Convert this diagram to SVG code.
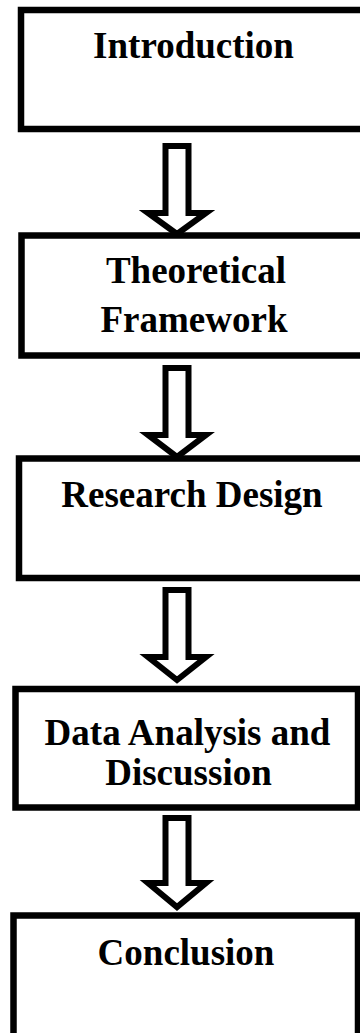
<svg xmlns="http://www.w3.org/2000/svg" width="360" height="1033" viewBox="0 0 360 1033">
<style>
.box{fill:#fff;stroke:#000;stroke-width:6.5}
.arr{fill:#fff;stroke:#000;stroke-width:6;stroke-linejoin:miter;stroke-miterlimit:10}
.t{font-family:"Liberation Serif","Times New Roman",serif;font-weight:bold;font-size:37px;fill:#000;text-anchor:middle}
</style>
<rect width="360" height="1033" fill="#fff"/>
<g id="connectors">
<path class="arr" d="M165.5 146 H188.5 V213 H206 L177 234 L148 213 H165.5 Z"/>
<path class="arr" d="M165.5 368 H188.5 V435 H206 L177 457 L148 435 H165.5 Z"/>
<path class="arr" d="M165.5 590 H188.5 V657 H206 L177 680 L148 657 H165.5 Z"/>
<path class="arr" d="M165.5 818 H188.5 V883 H206 L177 907 L148 883 H165.5 Z"/>
</g>
<g id="introduction">
<rect class="box" x="21" y="10" width="360" height="119"/>
<text class="t" x="193.5" y="58">Introduction</text>
</g>
<g id="theoretical-framework">
<rect class="box" x="21.5" y="235.5" width="360" height="120"/>
<text class="t" x="196" y="283">Theoretical</text>
<text class="t" x="194" y="332">Framework</text>
</g>
<g id="research-design">
<rect class="box" x="19" y="458.5" width="360" height="119.5"/>
<text class="t" x="192" y="507">Research Design</text>
</g>
<g id="data-analysis">
<rect class="box" x="15.5" y="689" width="342.5" height="118.5"/>
<text class="t" x="187.5" y="745">Data Analysis and</text>
<text class="t" x="188.5" y="785">Discussion</text>
</g>
<g id="conclusion">
<rect class="box" x="13.5" y="915.5" width="344.5" height="125"/>
<text class="t" x="186" y="965">Conclusion</text>
</g>
</svg>
